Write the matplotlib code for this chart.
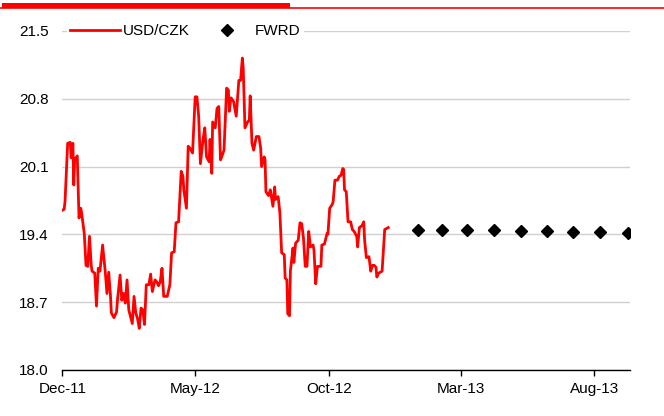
import pandas as pd
import matplotlib
matplotlib.use("Agg")
import matplotlib.pyplot as plt
import matplotlib.dates as mdates
from matplotlib.lines import Line2D
from matplotlib.patches import Rectangle

plt.rcParams['font.family'] = ['Liberation Sans', 'DejaVu Sans']

# USD/CZK spot
spot_dates = [
    "2011-12-01", "2011-12-03", "2011-12-04", "2011-12-07", "2011-12-10", "2011-12-11",
    "2011-12-13", "2011-12-14", "2011-12-15", "2011-12-18", "2011-12-20", "2011-12-22",
    "2011-12-23", "2011-12-25", "2011-12-26", "2011-12-28", "2011-12-30", "2012-01-01",
    "2012-01-03", "2012-01-04", "2012-01-07", "2012-01-09", "2012-01-11", "2012-01-13",
    "2012-01-16", "2012-01-19", "2012-01-21", "2012-01-23", "2012-01-25", "2012-01-26",
    "2012-01-29", "2012-02-01", "2012-02-02", "2012-02-05", "2012-02-07", "2012-02-09",
    "2012-02-11", "2012-02-13", "2012-02-15", "2012-02-17", "2012-02-19", "2012-02-21",
    "2012-02-23", "2012-02-25", "2012-02-27", "2012-02-29", "2012-03-02", "2012-03-04",
    "2012-03-06", "2012-03-09", "2012-03-11", "2012-03-13", "2012-03-16", "2012-03-18",
    "2012-03-20", "2012-03-22", "2012-03-24", "2012-03-26", "2012-03-30", "2012-04-02",
    "2012-04-04", "2012-04-07", "2012-04-09", "2012-04-12", "2012-04-15", "2012-04-17",
    "2012-04-18", "2012-04-21", "2012-04-23", "2012-04-25", "2012-04-28", "2012-05-01",
    "2012-05-03", "2012-05-05", "2012-05-07", "2012-05-10", "2012-05-12", "2012-05-14",
    "2012-05-17", "2012-05-18", "2012-05-20", "2012-05-21", "2012-05-24", "2012-05-26",
    "2012-05-28", "2012-05-30", "2012-05-31", "2012-06-03", "2012-06-06", "2012-06-08",
    "2012-06-09", "2012-06-11", "2012-06-14", "2012-06-17", "2012-06-20", "2012-06-22",
    "2012-06-24", "2012-06-25", "2012-06-27", "2012-06-30", "2012-07-02", "2012-07-03",
    "2012-07-05", "2012-07-07", "2012-07-10", "2012-07-13", "2012-07-15", "2012-07-16",
    "2012-07-19", "2012-07-20", "2012-07-21", "2012-07-24", "2012-07-26", "2012-07-29",
    "2012-07-31", "2012-08-01", "2012-08-04", "2012-08-06", "2012-08-08", "2012-08-11",
    "2012-08-12", "2012-08-14", "2012-08-15", "2012-08-17", "2012-08-18", "2012-08-21",
    "2012-08-22", "2012-08-24", "2012-08-27", "2012-08-29", "2012-08-31", "2012-09-02",
    "2012-09-04", "2012-09-06", "2012-09-08", "2012-09-10", "2012-09-13", "2012-09-14",
    "2012-09-16", "2012-09-18", "2012-09-22", "2012-09-23", "2012-09-26", "2012-09-29",
    "2012-09-30", "2012-10-02", "2012-10-05", "2012-10-06", "2012-10-08", "2012-10-11",
    "2012-10-13", "2012-10-15", "2012-10-17", "2012-10-18", "2012-10-19", "2012-10-21",
    "2012-10-23", "2012-10-26", "2012-10-28", "2012-10-30", "2012-11-02", "2012-11-03",
    "2012-11-05", "2012-11-08", "2012-11-10", "2012-11-11", "2012-11-13", "2012-11-16",
    "2012-11-18", "2012-11-20", "2012-11-22", "2012-11-24", "2012-11-25", "2012-11-27",
    "2012-12-01", "2012-12-04", "2012-12-06", "2012-12-08",
]
spot_values = [
    19.65, 19.66, 19.74, 20.34, 20.35, 20.19,
    20.34, 19.91, 20.17, 20.21, 19.57, 19.67,
    19.62, 19.48, 19.41, 19.08, 19.07, 19.38,
    19.08, 19.02, 19.00, 18.66, 19.05, 19.02,
    19.29, 19.02, 18.79, 19.01, 18.77, 18.59,
    18.54, 18.60, 18.72, 18.98, 18.72, 18.79,
    18.69, 18.93, 18.62, 18.55, 18.48, 18.76,
    18.59, 18.53, 18.43, 18.64, 18.62, 18.47,
    18.88, 18.88, 18.99, 18.81, 18.93, 18.91,
    18.87, 18.91, 19.05, 18.76, 18.76, 18.88,
    19.21, 19.22, 19.52, 19.53, 20.05, 20.00,
    19.86, 19.67, 20.31, 20.29, 20.24, 20.82,
    20.82, 20.62, 20.13, 20.38, 20.50, 20.20,
    20.15, 20.38, 20.03, 20.56, 20.50, 20.70,
    20.72, 20.17, 20.19, 20.27, 20.91, 20.89,
    20.67, 20.81, 20.77, 20.62, 20.99, 20.99,
    21.22, 21.12, 20.50, 20.56, 20.58, 20.83,
    20.34, 20.27, 20.41, 20.41, 20.29, 20.10,
    20.20, 20.17, 19.84, 19.80, 19.86, 19.69,
    19.89, 19.76, 19.79, 19.62, 19.21, 19.19,
    18.95, 18.93, 18.58, 18.56, 19.02, 19.26,
    19.11, 19.31, 19.34, 19.52, 19.51, 19.36,
    19.07, 19.07, 19.43, 19.27, 19.29, 19.24,
    18.89, 19.07, 19.07, 19.29, 19.30, 19.41,
    19.40, 19.67, 19.71, 19.74, 19.96, 19.96,
    20.00, 20.01, 20.08, 20.07, 19.86, 19.84,
    19.53, 19.53, 19.45, 19.43, 19.38, 19.27,
    19.47, 19.49, 19.53, 19.34, 19.16, 19.17,
    19.02, 19.08, 19.08, 19.06, 18.96, 19.00,
    19.02, 19.45, 19.46, 19.47,
]

# forward points
fwrd_dates = ["2013-01-11", "2013-02-08", "2013-03-08", "2013-04-08", "2013-05-09",
              "2013-06-08", "2013-07-08", "2013-08-08", "2013-09-08"]
fwrd_values = [19.45, 19.45, 19.45, 19.44, 19.43, 19.43, 19.42, 19.42, 19.41]

y_ticks = [18.0, 18.7, 19.4, 20.1, 20.8, 21.5]
x_ticks = ["2011-12-01", "2012-05-01", "2012-10-01", "2013-03-01", "2013-08-01"]

fig = plt.figure(figsize=(6.64, 4.16), dpi=100)
ax = fig.add_axes([0.094, 0.1106, 0.855, 0.815])

ax.plot(pd.to_datetime(spot_dates), spot_values, color="#ff0000", lw=2.0,
        label="USD/CZK", zorder=3)
ax.plot(pd.to_datetime(fwrd_dates), fwrd_values, linestyle="none", marker="D",
        color="black", markersize=5.8, label="FWRD", zorder=3)

ax.set_ylim(18.0, 21.5)
ax.set_yticks(y_ticks)
ax.set_yticklabels([f"{v:.1f}" for v in y_ticks])
ax.set_xlim(pd.Timestamp("2011-12-01"), pd.Timestamp("2013-09-11"))
ax.set_xticks(pd.to_datetime(x_ticks))
ax.xaxis.set_major_formatter(mdates.DateFormatter("%b-%y"))

ax.grid(axis="y", color="#d0d0d0", lw=1)
ax.set_axisbelow(True)
for s in ["top", "right", "left"]:
    ax.spines[s].set_visible(False)
ax.spines["bottom"].set_color("black")
ax.spines["bottom"].set_linewidth(1)
ax.tick_params(axis="y", length=0, pad=10, labelsize=11)
ax.tick_params(axis="x", length=4, width=1, direction="out", pad=5, labelsize=11)

leg = ax.legend(loc="center left", bbox_to_anchor=(0.008, 1.0), ncol=2,
                frameon=True, facecolor="white", edgecolor="none", framealpha=1,
                fontsize=11, handlelength=3.27, handletextpad=0.2,
                columnspacing=0.8, borderpad=0.2, borderaxespad=0, fancybox=False)
leg.get_frame().set_linewidth(0)

# red header strip
fig.add_artist(Rectangle((0.003, 1 - 8 / 416), 288 / 664, 5 / 416,
                         transform=fig.transFigure, color="#ff0000", lw=0))
fig.add_artist(Line2D([0, 1], [1 - 7.5 / 416, 1 - 7.5 / 416],
                      transform=fig.transFigure, color="#ff0000", lw=1.2))

plt.savefig("out.png", dpi=100)
